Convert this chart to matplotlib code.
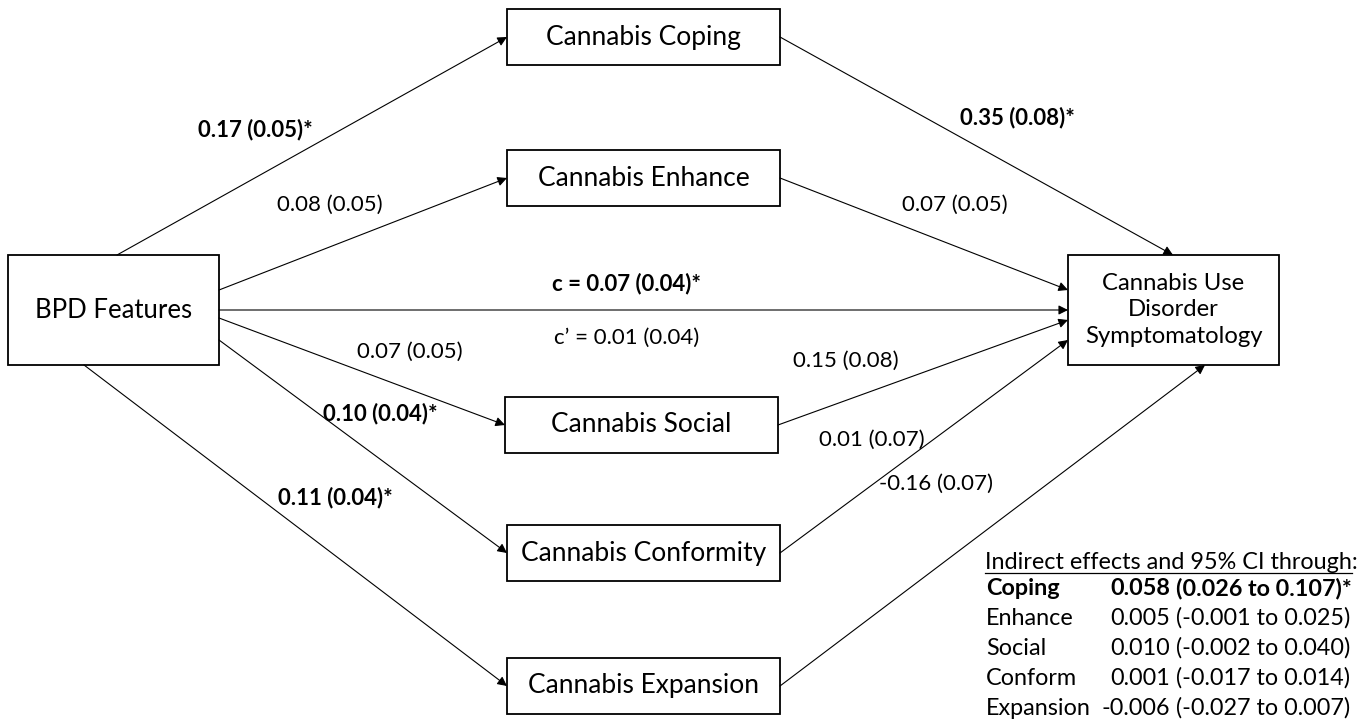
import matplotlib
matplotlib.use("Agg")
import matplotlib.pyplot as plt
from matplotlib.patches import Rectangle

plt.rcParams['font.family'] = ['Lato', 'DejaVu Sans']

# mediators and path estimates
mediators = ["Coping", "Enhance", "Social", "Conformity", "Expansion"]
a_est = [0.17, 0.08, 0.07, 0.10, 0.11]
a_se = [0.05, 0.05, 0.05, 0.04, 0.04]
a_sig = [True, False, False, True, True]
b_est = [0.35, 0.07, 0.15, 0.01, -0.16]
b_se = [0.08, 0.05, 0.08, 0.07, 0.07]
b_sig = [True, False, False, False, False]
c_total = (0.07, 0.04)
c_direct = (0.01, 0.04)

# indirect effects table
ind_names = ["Coping", "Enhance", "Social", "Conform", "Expansion"]
ind_est = [0.058, 0.005, 0.010, 0.001, -0.006]
ind_lo = [0.026, -0.001, -0.002, -0.017, -0.027]
ind_hi = [0.107, 0.025, 0.040, 0.014, 0.007]
ind_sig = [True, False, False, False, False]

fig = plt.figure(figsize=(13.67, 7.19), dpi=100)
ax = fig.add_axes([0, 0, 1, 1])
ax.set_xlim(0, 1367)
ax.set_ylim(719, 0)
ax.axis('off')

def box(x0, y0, x1, y1, text, fs=19, ls=1.2):
    ax.add_patch(Rectangle((x0, y0), x1 - x0, y1 - y0, fill=False,
                           edgecolor='black', linewidth=1.3))
    ax.text((x0 + x1) / 2, (y0 + y1) / 2, text, ha='center', va='center',
            fontsize=fs, linespacing=ls)

def arrow(p0, p1):
    ax.annotate("", xy=p1, xytext=p0,
                arrowprops=dict(arrowstyle='-|>', color='black', lw=0.8,
                                mutation_scale=14, shrinkA=0, shrinkB=0))

def coef(est, se, sig):
    s = f"{est:.2f} ({se:.2f})"
    return s + "*" if sig else s

# boxes
box(8, 255, 219, 365, "BPD Features", fs=18.5)
box(1068, 255, 1279, 365, "Cannabis Use\nDisorder\nSymptomatology", fs=17.2, ls=1.3)
mbox = [(507, 9, 780, 65), (507, 150, 780, 206), (505, 397, 778, 453),
        (507, 525, 780, 581), (507, 658, 780, 714)]
for (x0, y0, x1, y1), m in zip(mbox, mediators):
    box(x0, y0, x1, y1, "Cannabis " + m)

# a paths
a_start = [(117, 255), (219, 290), (219, 318), (219, 340), (84, 365)]
for s, (x0, y0, x1, y1) in zip(a_start, mbox):
    arrow(s, (x0, (y0 + y1) / 2))
# b paths
b_end = [(1173, 255), (1068, 290), (1068, 320), (1068, 340), (1205, 365)]
for e, (x0, y0, x1, y1) in zip(b_end, mbox):
    arrow((x1, (y0 + y1) / 2), e)
# direct path
arrow((219, 310), (1068, 310))

# labels
lfs = 16
a_lab = [(255, 130), (330, 205), (410, 352), (380, 414), (335, 498)]
for (x, y), e, s, g in zip(a_lab, a_est, a_se, a_sig):
    ax.text(x, y, coef(e, s, g), ha='center', va='center', fontsize=lfs,
            fontweight='bold' if g else 'normal')
b_lab = [(1017, 118), (955, 205), (846, 361), (872, 440), (936, 484)]
for (x, y), e, s, g in zip(b_lab, b_est, b_se, b_sig):
    ax.text(x, y, coef(e, s, g), ha='center', va='center', fontsize=lfs,
            fontweight='bold' if g else 'normal')
ax.text(627, 284, f"c = {c_total[0]:.2f} ({c_total[1]:.2f})*", ha='center',
        va='center', fontsize=lfs, fontweight='bold')
ax.text(627, 338, f"c\u2019 = {c_direct[0]:.2f} ({c_direct[1]:.2f})", ha='center',
        va='center', fontsize=lfs)

# indirect effects table
tfs = 16.8
title = ax.text(985, 569, "Indirect effects and 95% CI through:", ha='left',
                va='baseline', fontsize=tfs)
probe = ax.text(985, 569, "Indirect effects and 95% CI through", ha='left',
                va='baseline', fontsize=tfs, alpha=0)
fig.canvas.draw()
bb = probe.get_window_extent(fig.canvas.get_renderer())
x_end = ax.transData.inverted().transform((bb.x1, bb.y0))[0]
probe.remove()
ax.plot([985, x_end], [573, 573], color='black', lw=0.9)

row_y = [595, 625, 655, 685, 715]
for y, n, e, lo, hi, g in zip(row_y, ind_names, ind_est, ind_lo, ind_hi, ind_sig):
    w = 'bold' if g else 'normal'
    ax.text(986, y, n, ha='left', va='baseline', fontsize=tfs, fontweight=w)
    ax.text(1170, y, f"{e:.3f}", ha='right', va='baseline', fontsize=tfs, fontweight=w)
    ci = f"({lo:.3f} to {hi:.3f})" + ("*" if g else "")
    ax.text(1176, y, ci, ha='left', va='baseline', fontsize=tfs, fontweight=w)

fig.savefig("out.png", dpi=100, facecolor='white')
